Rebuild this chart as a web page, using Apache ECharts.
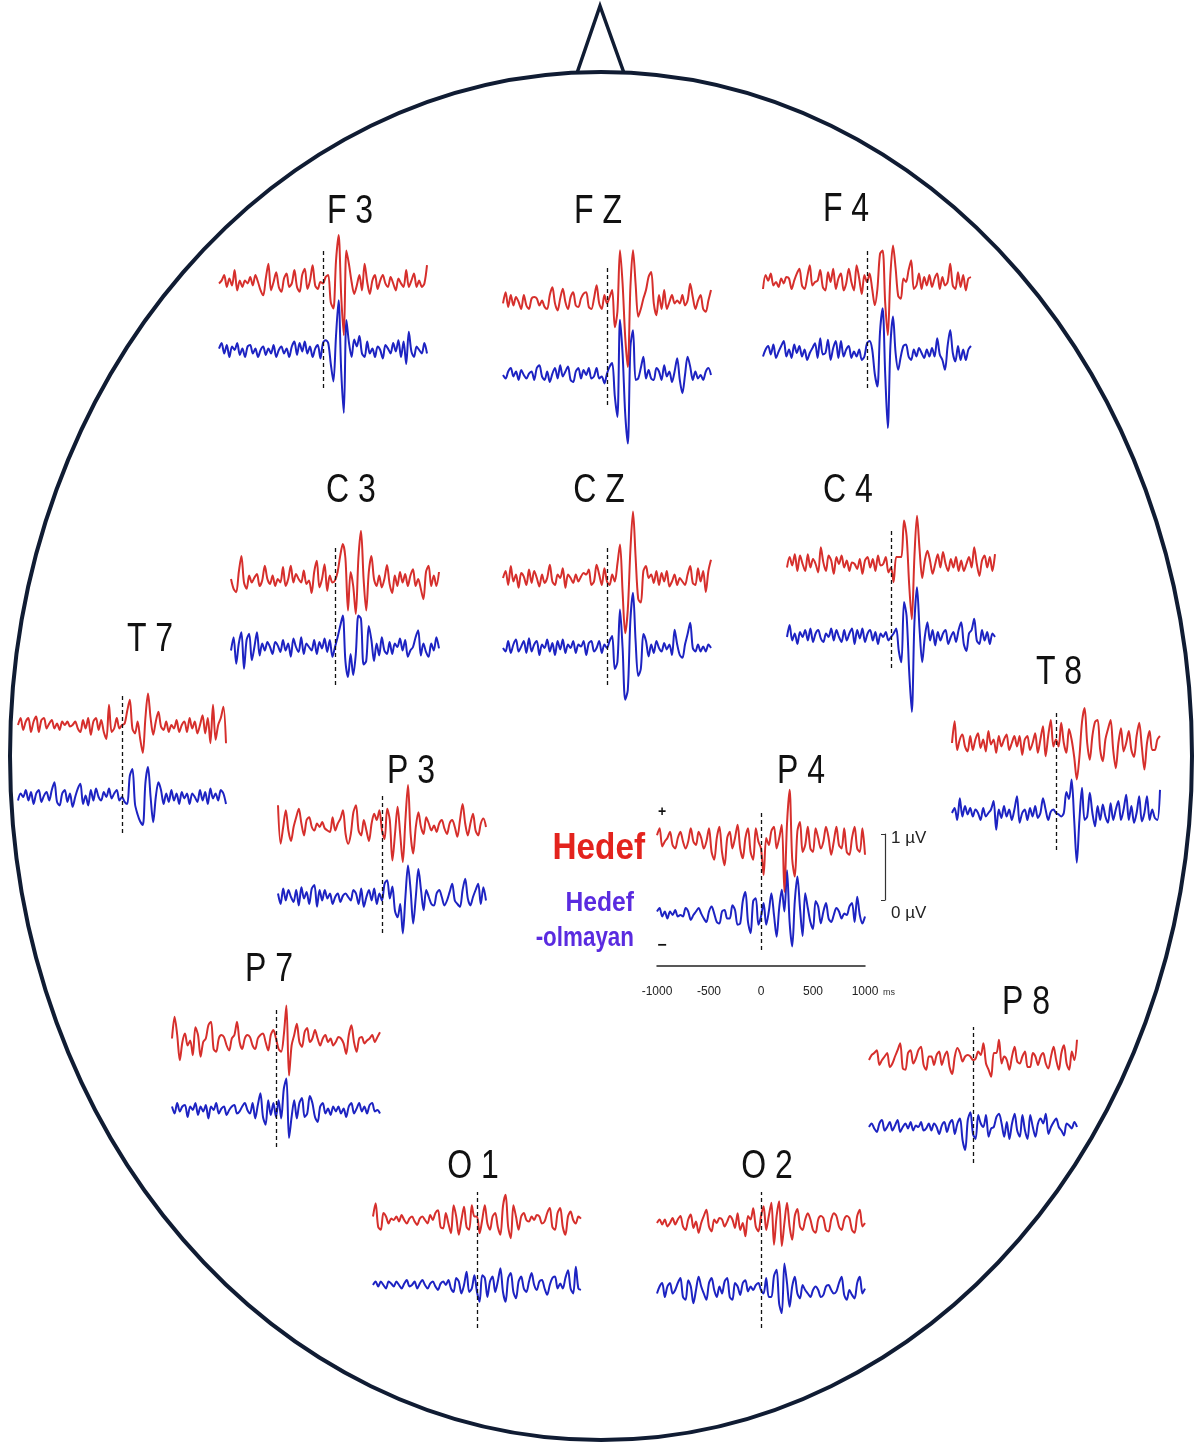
<!DOCTYPE html>
<html>
<head>
<meta charset="utf-8">
<script src="https://cdn.jsdelivr.net/npm/echarts@6/dist/echarts.min.js"></script>
<style>
  html, body { margin: 0; padding: 0; background: #ffffff; }
  #chart { width: 1199px; height: 1445px; }
</style>
</head>
<body>
<div id="chart"></div>
<script>
// Grand-average ERP traces (µV), 81 samples each from -1000 ms to +1000 ms.
// "target" = Hedef (red), "nontarget" = Hedef-olmayan (blue).
const timeTicks = [-1000, -500, 0, 500, 1000];
const scaleTicks = [0, 1];

const F3_target = [
  -0.02,0.02,0.1,-0.07,0.05,-0.05,0.17,-0.12,0.02,-0.07,
  0.02,-0.02,0.07,-0.05,0.1,0,-0.12,-0.19,0.05,0.26,
  -0.12,0,0.14,-0.07,-0.14,0.05,0.12,-0.07,-0.02,0.17,
  -0.07,-0.14,0.1,0.19,-0.1,0.02,0.24,-0.05,-0.1,0,
  -0.02,0.07,0.1,-0.29,-0.38,0.3,0.67,-0.2,-0.76,0.45,
  0.25,0,-0.17,-0.05,0.1,-0.12,0.26,0,-0.17,0.02,
  0.1,-0.1,0.02,0.1,-0.02,-0.07,0.07,-0.02,-0.12,0.05,
  -0.02,-0.07,0.17,-0.07,0.02,0.12,-0.07,0.02,-0.07,-0.02,
  0.24];
const F3_nontarget = [
  0.02,0.1,-0.05,0.07,-0.1,0.05,0,0.1,-0.07,0.02,
  -0.1,0.05,0.07,-0.05,0.02,-0.1,0,0.05,-0.07,0.02,
  -0.05,0.07,-0.1,0,0.05,-0.05,0.02,-0.1,0.05,0.12,
  -0.07,0.1,-0.02,0.12,-0.05,0.05,-0.1,0.02,0.07,-0.12,
  0.1,0.14,0.1,-0.2,-0.45,0.2,0.71,-0.3,-0.9,0.43,
  0.1,-0.1,0.15,0.05,0.2,-0.05,-0.1,0.12,-0.05,0.02,
  -0.1,0.05,0,-0.12,0.07,0.02,-0.05,0.1,-0.02,0.14,
  -0.1,0.12,-0.2,0.26,-0.02,-0.1,0.05,0,-0.05,0.1,
  -0.05];

const FZ_target = [
  -0.02,0.14,-0.07,0.1,-0.05,0.07,0,-0.1,0.1,-0.05,
  -0.1,0.05,0.07,0.05,-0.05,0.02,-0.07,-0.1,0.1,0.21,
  -0.02,-0.12,0.05,0.19,0,-0.1,0.07,0.14,-0.05,-0.07,
  0.05,0.12,0.14,-0.07,-0.1,0.05,0.24,-0.02,-0.1,0.1,
  -0.02,0.07,0.17,-0.36,-0.14,0.74,0.26,-0.5,-0.93,0.21,
  0.74,0.26,-0.21,-0.1,0.05,0.17,0.36,0.43,-0.02,-0.19,
  0.1,-0.1,0.17,-0.1,0,0.1,-0.02,0.02,-0.02,0.1,
  -0.05,0.02,0.26,0.07,-0.1,0.02,0.1,-0.1,-0.14,0.02,
  0.17];
const FZ_nontarget = [
  0,-0.05,0.05,0.1,-0.02,0.05,-0.07,0.07,0,-0.05,
  0.02,0.05,-0.07,0.1,0.14,-0.02,-0.07,0.05,-0.1,0.02,
  0.1,-0.05,0.14,-0.02,0.05,0.12,-0.07,-0.1,0.05,0.1,
  -0.05,0.07,0,0.1,-0.05,-0.02,0.1,-0.05,-0.02,-0.12,
  0.02,0.12,0.17,-0.3,-0.6,0.79,0.3,-0.55,-0.98,0.4,
  0.64,-0.07,-0.05,0.1,0.26,-0.05,0.07,-0.05,-0.07,0.1,
  0.05,-0.07,0.14,-0.02,0.05,-0.1,0.05,0.24,-0.07,-0.26,
  0,0.26,0.12,-0.07,0.05,-0.05,0,-0.07,0.05,0.1,
  0];

const F4_target = [
  -0.1,0.1,0.02,0.12,-0.05,0,-0.07,0.05,-0.02,0.07,
  0.05,-0.1,0.02,0.12,0.19,-0.05,-0.1,0.07,0.24,-0.05,
  0,0.02,0.17,-0.07,-0.12,0.14,0,0.19,-0.1,0.05,
  0.12,-0.12,-0.02,0.19,0,-0.12,0.24,0.05,-0.17,0.1,
  0,0.12,-0.1,-0.33,-0.1,0.4,0.45,-0.3,-0.76,0.1,
  0.52,0.2,-0.2,-0.24,0.05,0,0.17,0.31,-0.1,-0.05,
  0.12,-0.1,0.07,-0.05,0.1,-0.07,0.05,0.12,-0.1,0.07,
  -0.05,0,0.26,-0.05,-0.1,0.14,-0.07,0.1,-0.12,0.05,
  0.07];
const F4_nontarget = [
  -0.05,0.05,0.1,-0.02,0.12,-0.07,0.02,0.1,0.17,-0.05,
  0.05,-0.07,0.12,0,0.1,-0.05,0.05,-0.1,0,0.07,
  0.14,-0.07,0.21,-0.02,0,0.19,-0.1,0.07,0.17,-0.07,
  0.17,-0.05,0.05,0.1,-0.07,0.02,-0.05,0.05,-0.1,-0.05,
  0.14,0.17,0.05,-0.3,-0.48,0.3,0.64,-0.3,-1.07,0.1,
  0.52,0,-0.24,-0.05,0.1,0.12,-0.05,-0.1,0.05,-0.05,
  0.07,0,-0.07,0.05,-0.05,0.07,-0.05,0.21,-0.02,-0.1,
  -0.24,0.1,0.33,0,-0.12,0.1,-0.1,0.05,-0.1,0.05,
  0.1];

const C3_target = [
  0,-0.14,-0.19,0.1,0.33,-0.05,-0.14,0.05,-0.05,0.02,
  0.07,-0.1,-0.02,0.19,0,-0.07,0.05,-0.1,0,-0.05,
  0.17,-0.1,0,0.19,-0.05,0.07,0,-0.05,0.12,-0.07,
  -0.02,-0.2,0.1,0.26,-0.12,0,0.21,-0.17,0.05,-0.05,
  -0.02,0.1,0.33,0.5,0.3,-0.45,0.1,-0.1,-0.5,0.3,
  0.69,0,-0.45,0.1,0.33,0,-0.1,0.05,-0.12,0,
  0.2,-0.07,-0.2,0.05,-0.1,0.1,-0.05,0.07,-0.1,0.05,
  0.14,-0.1,0,-0.14,-0.29,0.1,0.19,-0.1,0.05,-0.1,
  0.1];
const C3_nontarget = [
  -0.05,0.14,-0.24,0.05,0.21,-0.31,0.1,0.19,-0.19,0,
  0.21,-0.12,0.05,-0.05,0.07,0,-0.1,0.07,0.02,-0.07,
  0.1,-0.05,0.05,-0.14,0.12,0,-0.07,0.14,-0.1,0.05,
  0,-0.05,0.1,-0.1,0.07,-0.02,0.12,-0.07,0.1,-0.14,
  0,0.14,0.3,0.45,-0.2,-0.43,-0.1,-0.4,-0.1,0.45,
  0.4,-0.25,-0.2,0.3,0.1,-0.2,0.05,-0.12,0.14,-0.05,
  -0.1,0.07,-0.1,0.05,0,0.12,-0.05,0.1,-0.14,-0.05,
  0,0.14,0.24,-0.12,0.05,-0.07,-0.14,0.05,-0.05,0.14,
  -0.02];

const CZ_target = [
  0,0.1,-0.1,0.17,-0.05,0.05,-0.14,0.07,0.02,-0.1,
  0.12,-0.07,0.1,0,-0.12,0.05,-0.07,0,0.19,-0.05,
  -0.1,0.05,0,0.14,-0.14,0.05,0,-0.07,0.05,-0.05,
  0.02,0.07,0.05,0.12,-0.1,-0.05,0.19,0.05,-0.1,0.14,
  -0.05,-0.1,0.05,-0.05,0.2,0.48,-0.2,-0.79,-0.45,0.4,
  0.95,0.3,-0.3,-0.35,0.1,0.17,0,0.05,-0.07,0.1,
  -0.1,0.07,-0.05,0.1,-0.12,-0.05,0.05,-0.1,0,-0.05,
  -0.1,0.05,0.17,-0.07,-0.1,0.14,-0.05,0.1,-0.2,0.1,
  0.26];
const CZ_nontarget = [
  0,-0.05,0.1,-0.07,0.05,0.12,-0.05,0.02,0.1,-0.07,
  0.14,-0.05,0.05,0.1,-0.1,0.05,0,0.12,-0.05,0.07,
  -0.1,0.1,-0.02,0.12,-0.07,0.05,0,0.1,-0.07,0.05,
  0.02,0.1,-0.1,0.07,0.1,-0.05,0,0.1,-0.07,0.05,
  0,0.1,0.17,-0.3,-0.2,0.55,0,-0.74,-0.6,0.4,
  0.79,0.1,-0.4,-0.3,0.2,0.1,-0.12,0.05,-0.07,0.1,
  0,-0.05,0.07,-0.02,0.05,-0.1,0.26,0.05,-0.1,-0.14,
  0.05,0.2,0.36,0,-0.05,0.05,-0.05,0.02,-0.05,0.05,
  0];

const C4_target = [
  -0.05,0.1,-0.02,0.14,-0.1,0.12,0,-0.1,0.14,-0.05,
  0.07,0,-0.12,0.24,0.02,-0.1,0.12,0.05,-0.14,0.1,
  0,0.12,-0.05,0.05,-0.1,0.02,0,-0.07,0.07,-0.14,
  0.05,0.1,-0.05,0.07,-0.1,0.12,-0.02,0,0.1,-0.12,
  -0.05,-0.26,0.1,0.1,0.1,0.62,0.4,-0.3,-0.79,0.1,
  0.69,0.2,-0.2,0.05,0.19,0.05,-0.14,0,0.14,-0.05,
  0.17,0,-0.1,0.07,-0.05,0.1,-0.1,0.05,-0.1,0,
  0.1,-0.05,0.24,0,-0.17,0.05,0.12,-0.05,0.1,-0.1,
  0.14];
const C4_nontarget = [
  0,0.17,-0.05,0.05,-0.1,0.07,0,0.1,-0.05,0.12,
  -0.07,0.05,0.1,-0.02,-0.07,0.05,0,0.12,-0.05,0.1,
  0,-0.07,0.1,-0.05,0.05,0.12,-0.1,0.1,-0.02,0.12,
  -0.07,0.05,0.1,-0.05,0.07,-0.1,0.05,0,0.07,-0.05,
  0,0.05,0.12,-0.2,-0.36,0.5,0.3,-0.5,-1.07,0.2,
  0.71,0.1,-0.36,0,0.21,-0.05,0.1,-0.12,0.07,-0.05,
  0.05,0.1,-0.1,0,0.07,-0.07,0.1,0.21,-0.1,-0.2,
  0.05,0.1,0.26,-0.05,-0.1,0.1,-0.05,0.07,-0.1,0.05,
  0];

const T7_target = [
  0,0.1,-0.07,0.05,0.1,-0.1,0.05,0.12,-0.1,0.07,
  0.1,-0.05,0.02,0.07,-0.05,0.02,-0.07,0.05,0,0.05,
  -0.02,0,0.05,-0.05,-0.1,0.07,-0.05,0.1,-0.14,0.05,
  0.1,-0.07,0.07,-0.1,-0.2,0.29,-0.1,-0.05,0.1,-0.05,
  0,0.02,0.2,0.36,-0.05,-0.12,0.05,-0.2,-0.4,0.1,
  0.45,0.1,-0.14,0.05,0.19,-0.02,-0.07,0.05,-0.1,0,
  -0.05,0.07,-0.1,0,0.05,-0.1,0.1,-0.05,0.05,-0.12,
  0,0.14,-0.12,0.1,-0.26,0.29,-0.21,0,0.1,0.26,
  -0.26];
const T7_nontarget = [
  -0.05,0.05,0,0.1,-0.05,0.07,-0.1,0.05,0.1,-0.07,
  0.02,0.07,-0.05,0.1,0.21,-0.07,-0.12,0.05,0.1,-0.07,
  0.05,-0.14,0,0.12,0.19,-0.1,0.02,-0.12,0.1,-0.05,
  0.12,0,-0.05,0.07,0,0.12,-0.02,0.05,0.1,-0.05,
  0,-0.07,-0.1,0.3,0.4,-0.1,-0.25,-0.35,-0.4,0.2,
  0.43,0,-0.36,0,0.21,0.1,-0.1,0.05,-0.07,0.1,
  -0.05,0.05,-0.1,0.07,-0.02,0.05,-0.1,0.05,0,-0.07,
  0.1,-0.05,0.07,-0.1,0.12,-0.02,0.05,-0.05,0.1,0.05,
  -0.1];

const T8_target = [
  0,0.31,-0.1,0.05,0.12,-0.05,-0.12,0.1,-0.1,0.05,
  0.14,-0.07,0.05,-0.12,0.17,-0.02,0.05,-0.14,0.1,-0.05,
  0.05,0.12,-0.1,0,0.1,-0.05,0.1,-0.17,0.05,0.1,
  -0.1,0,0.14,-0.14,0.05,0.24,-0.19,0.1,0.33,-0.05,
  0.05,-0.05,0.29,0,-0.14,0.2,0.05,-0.2,-0.52,-0.2,
  0.3,0.5,0,-0.24,0.1,0.3,0.33,-0.1,-0.26,0.05,
  0.2,0.33,-0.1,-0.36,0,0.21,-0.12,0,0.17,-0.1,
  -0.2,0.1,0.29,-0.05,-0.38,0,0.17,-0.1,-0.1,0.05,
  0.1];
const T8_nontarget = [
  0,0.07,-0.1,0.21,-0.05,0.1,-0.02,0.07,-0.05,0.05,
  0,-0.1,0.07,-0.05,0,0.05,0.17,-0.24,0.05,-0.07,
  0.1,-0.05,0.05,-0.1,0.05,0.24,-0.14,0,0.05,-0.1,
  0.07,-0.05,0.1,-0.07,0,0.21,0.05,-0.1,0.02,0.05,
  0,-0.02,-0.05,0,0.3,0.2,0.48,-0.1,-0.71,-0.1,
  0.36,-0.1,-0.05,0.29,0,-0.19,0.1,-0.1,0.12,-0.05,
  -0.14,0.14,-0.1,0.05,0.17,-0.1,0.05,0.26,-0.1,0.1,
  -0.14,0,0.24,-0.12,0,0.24,-0.1,0.05,-0.07,-0.1,
  0.33];

const P3_target = [
  0.31,-0.24,0,0.24,-0.05,-0.2,0,0.14,0.26,0.05,
  -0.12,0.1,0.14,0,-0.05,0.05,0,0.07,-0.02,-0.05,
  -0.07,0.14,-0.05,0.05,0.12,0.24,-0.1,-0.24,-0.1,0.21,
  0.31,-0.05,-0.12,0.1,-0.05,-0.2,0.05,0.19,0.1,0.24,
  -0.05,-0.17,0.26,0.1,-0.48,-0.1,0.29,-0.1,-0.5,0.1,
  0.6,-0.1,-0.38,0,0.21,0,-0.1,0.14,0.05,-0.05,
  0.02,-0.07,0.05,0.1,-0.02,-0.1,0.05,0.1,0,-0.14,
  0.1,0.33,0.05,-0.12,0.05,0.19,-0.05,-0.12,0.05,0.12,
  0];
const P3_nontarget = [
  0.05,-0.1,0.12,-0.05,0.1,0,-0.07,0.1,-0.12,0.14,
  -0.02,0.07,-0.1,0.12,0.17,-0.14,0.1,-0.05,0.1,-0.02,
  0.05,-0.1,0,0.05,-0.07,0.02,0.05,0,-0.05,0.1,
  0.05,-0.1,0.12,-0.14,0,0.1,-0.05,0.12,-0.1,0.05,
  -0.05,0.19,0.24,-0.02,0.15,-0.2,-0.29,-0.1,-0.52,0,
  0.45,0.1,-0.38,0,0.4,0.1,-0.19,0.1,0,-0.1,
  -0.12,0.05,0.1,0,-0.12,-0.05,0.07,0.19,-0.05,-0.1,
  -0.14,0.1,0.26,-0.02,-0.12,0,0.1,0.19,-0.1,0.14,
  -0.05];

const P4_target = [
  0.14,0.24,-0.02,0.05,0.1,0.19,0,-0.05,0.1,0.19,
  0.05,-0.05,0.05,0.24,0.05,0,0.19,0.1,-0.05,0.05,
  0.24,-0.1,-0.21,0.1,0.26,-0.1,-0.29,0.1,0.19,-0.05,
  0.1,0.29,-0.05,-0.19,0.1,0.24,-0.1,-0.21,0.24,0.05,
  -0.05,-0.43,0.1,0,0.2,0.26,-0.05,0.1,0.29,-0.67,
  0.3,0.79,-0.2,-0.45,0.2,0.33,-0.1,0,0.26,-0.05,
  -0.1,0.24,0.1,-0.05,0.05,0.26,0.1,-0.14,0.05,0.26,
  0,-0.05,0.24,-0.1,-0.14,0.1,0.26,-0.05,-0.1,0.24,
  -0.14];
const P4_nontarget = [
  0.05,0.1,-0.02,0.05,-0.05,0.05,0,0.07,-0.02,0,
  -0.02,0.1,0.05,-0.07,0,0.05,0.1,0.02,-0.05,-0.1,
  0.05,0.12,0.02,-0.1,-0.12,0.05,0.07,-0.05,-0.05,0.14,
  0.07,-0.14,-0.12,0.2,0.33,-0.1,-0.26,0.2,0.24,-0.14,
  -0.02,0.17,-0.14,0.05,0.31,0,-0.31,0.1,0.36,0.05,
  0.64,-0.1,-0.45,0.2,0.55,0.1,-0.3,0.31,0.1,-0.1,
  -0.2,0.2,0.12,-0.12,0.05,0.17,-0.05,-0.1,0,0.1,
  0.05,-0.05,0.02,0,0.12,0.17,-0.1,0.26,0,-0.12,
  -0.02];

const P7_target = [
  0.05,0.36,0.1,-0.26,0,0.12,-0.05,0.02,-0.19,0.21,
  0.1,-0.21,0,0.05,0.24,0.29,-0.1,-0.14,0.05,0.1,
  0.07,-0.05,-0.12,0.05,0.1,0.29,0,-0.1,0.05,0.1,
  0.07,-0.05,-0.1,0.05,0.1,0.12,0,-0.12,0.1,0.17,
  0.05,-0.1,-0.14,0.1,0.52,-0.48,-0.05,0.1,0.26,0,
  -0.07,0.14,0.2,0,0.05,0.17,0.05,-0.05,0.05,0.1,
  0,0.05,-0.05,0,0.07,0.05,-0.02,-0.17,0.1,0.24,
  0,-0.14,0.05,0.07,-0.02,0.02,0.05,0.1,0,0.07,
  0.14];
const P7_nontarget = [
  0.05,-0.05,0.1,-0.02,0.05,0.07,-0.1,0.05,0,0.1,
  -0.07,0.05,-0.02,0.07,-0.12,0.05,0,0.1,-0.05,0.02,
  0.05,-0.07,0,0.05,0.07,-0.05,-0.02,0.05,0.1,0,
  -0.05,0.1,-0.12,0.07,0.24,-0.1,-0.21,0.14,-0.07,0.1,
  -0.1,0.14,-0.12,0.3,0.45,-0.4,-0.1,0.14,-0.12,0.1,
  0.17,-0.1,-0.05,0.2,0.1,-0.1,-0.17,0.05,0.1,-0.05,
  0.02,-0.07,0.05,-0.02,0.05,-0.05,0.02,-0.1,0.05,0.1,
  -0.05,0.02,0.1,-0.02,0.05,-0.05,0.07,0.1,-0.02,0,
  -0.05];

const P8_target = [
  0,0.07,0.1,0.14,-0.07,0,0.05,0.1,-0.1,-0.05,
  0.05,0.14,0.24,-0.12,-0.14,0.1,0.14,-0.05,0.02,0.14,
  0.19,-0.07,-0.14,0.05,0.05,-0.07,0.07,0.12,-0.07,0.05,
  0.12,-0.1,-0.2,0.05,0.17,0.1,-0.02,0.05,0.07,0.05,
  0,0.02,0.12,0.07,0.24,-0.05,-0.14,-0.24,0.1,0.1,
  0.29,-0.05,0.05,0,-0.14,0.05,0.19,-0.02,-0.05,0.05,
  0.12,-0.1,-0.1,0.1,0.05,-0.07,0.05,0.1,-0.05,-0.12,
  0.05,0.19,0,-0.14,0.1,0.21,-0.05,-0.14,0.12,0,
  0.29];
const P8_nontarget = [
  0,0.05,-0.02,-0.07,0.05,0.1,-0.05,0,0.07,-0.05,
  0.02,0.1,-0.07,0,0.05,-0.02,0.07,-0.05,0.02,0,
  0.07,-0.05,-0.02,0.05,-0.05,0.05,0,-0.1,0.02,0.07,
  -0.07,0.05,0.1,-0.1,0.05,0.12,-0.19,-0.33,0.1,0.21,
  -0.1,-0.17,0.17,0.05,0,0.17,-0.14,-0.02,0,0.14,
  0.19,0.05,-0.14,0.07,-0.17,0.05,0.19,-0.05,-0.14,0.17,
  -0.05,-0.17,0.17,0,-0.14,0.05,0.12,0.05,0.19,-0.1,
  0,0.07,0.12,0,-0.05,-0.12,0.05,0.02,-0.02,0.07,
  0];

const O1_target = [
  0.05,0.24,-0.1,-0.14,0.1,0.05,-0.05,0.02,0,0.05,
  -0.02,0.07,0,-0.05,0.02,0.05,-0.02,-0.07,0.02,0.05,
  0,-0.05,0.07,0,0.1,0.14,-0.1,-0.12,0.1,-0.05,
  -0.19,0.21,0.05,-0.21,0,0.19,-0.1,-0.14,0.21,0.05,
  0.05,-0.19,0,0.21,-0.05,-0.14,0.05,0.1,-0.1,-0.21,
  0.2,0.36,-0.1,-0.26,0.21,0.05,-0.14,0.05,0.1,0,
  -0.02,0.05,0,0.07,0.05,-0.05,-0.02,0.1,0.17,-0.1,
  -0.14,0.1,0.17,-0.1,-0.21,0.05,0.12,0,-0.05,0.05,
  0.02];
const O1_nontarget = [
  0,0.05,-0.02,0.05,0,-0.05,0.05,0.02,-0.02,0.05,
  0,-0.05,0.02,0.07,-0.02,0,0.05,-0.05,0.02,0.07,
  0,-0.05,0.02,0.05,-0.02,-0.07,0.02,0.05,0,0.07,
  -0.05,-0.1,0.1,0.05,-0.12,0,0.19,-0.1,-0.05,0.14,
  -0.1,-0.24,0.14,0.1,-0.17,0.05,0.12,-0.1,0.05,0.24,
  -0.1,-0.24,0.1,0.17,-0.1,-0.19,0.05,0.12,-0.05,-0.1,
  0.05,0.17,0,-0.07,0.05,0.07,-0.05,-0.14,0,0.1,
  0.12,-0.05,0.02,-0.05,0.1,0.21,-0.05,-0.12,0.26,-0.05,
  -0.07];

const O2_target = [
  0,0.05,-0.02,0.05,-0.05,0,0.07,-0.02,0.05,0.1,
  -0.05,-0.1,0.05,0.12,-0.07,0.02,-0.14,0,0.1,0.19,
  -0.05,-0.12,0.05,0,0.07,0.05,-0.05,0.02,0.1,0.05,
  -0.07,0.14,-0.1,0,-0.19,0.1,0.05,0.21,-0.05,-0.12,
  0.1,0.24,-0.1,0.1,0.29,-0.31,0.1,0.31,-0.33,0,
  0.29,-0.05,-0.24,0.1,0.2,-0.05,-0.1,0.05,0.14,0.05,
  -0.1,-0.14,0.05,0.1,0.07,-0.1,-0.12,0.05,0.14,0.1,
  -0.05,-0.1,0.05,0.1,0.07,-0.1,-0.14,0.1,0.19,-0.05,
  0];
const O2_nontarget = [
  -0.05,0.05,0.1,-0.1,0.05,0.1,-0.05,0,0.1,0.17,
  -0.1,-0.14,0.14,0.05,-0.19,0,0.19,0.05,-0.05,-0.14,
  0.1,0.17,0,-0.1,0.05,-0.05,0.12,0.17,-0.1,-0.14,
  0.1,0.05,-0.07,0.1,0.14,-0.02,0.05,0,0.07,0.1,
  0,-0.05,0.17,-0.1,-0.1,0.2,0.29,-0.2,-0.33,0.38,
  0.1,-0.24,0.05,0.19,-0.05,-0.12,0.07,0,-0.05,-0.1,
  0,0.05,0,-0.1,-0.07,0.05,0.07,0,-0.05,-0.02,
  0.1,0.19,-0.07,-0.14,0,-0.07,-0.12,0.1,0.19,-0.05,
  0.02];

// Page placement of each electrode panel (pixels): zero-time x, panel top/bottom,
// baselines of the two traces, and the label anchor.
const sites = [
  { name: 'F 3', target: F3_target, nontarget: F3_nontarget, zeroX: 323, top: 250, bottom: 388, targetY: 282, nontargetY: 350, labelX: 350, labelY: 212 },
  { name: 'F Z', target: FZ_target, nontarget: FZ_nontarget, zeroX: 607, top: 267, bottom: 405, targetY: 302, nontargetY: 375, labelX: 598, labelY: 212 },
  { name: 'F 4', target: F4_target, nontarget: F4_nontarget, zeroX: 867, top: 250, bottom: 388, targetY: 282, nontargetY: 353, labelX: 846, labelY: 210 },
  { name: 'C 3', target: C3_target, nontarget: C3_nontarget, zeroX: 335, top: 547, bottom: 685, targetY: 579, nontargetY: 647, labelX: 351, labelY: 491 },
  { name: 'C Z', target: CZ_target, nontarget: CZ_nontarget, zeroX: 607, top: 547, bottom: 685, targetY: 578, nontargetY: 648, labelX: 599, labelY: 491 },
  { name: 'C 4', target: C4_target, nontarget: C4_nontarget, zeroX: 891, top: 530, bottom: 668, targetY: 564, nontargetY: 637, labelX: 848, labelY: 491 },
  { name: 'T 7', target: T7_target, nontarget: T7_nontarget, zeroX: 122, top: 695, bottom: 833, targetY: 725, nontargetY: 797, labelX: 150, labelY: 640 },
  { name: 'T 8', target: T8_target, nontarget: T8_nontarget, zeroX: 1056, top: 713, bottom: 850, targetY: 743, nontargetY: 813, labelX: 1059, labelY: 673 },
  { name: 'P 3', target: P3_target, nontarget: P3_nontarget, zeroX: 382, top: 795, bottom: 933, targetY: 827, nontargetY: 897, labelX: 411, labelY: 772 },
  { name: 'P 4', target: P4_target, nontarget: P4_nontarget, zeroX: 761, top: 812, bottom: 950, targetY: 845, nontargetY: 915, labelX: 801, labelY: 772 },
  { name: 'P 7', target: P7_target, nontarget: P7_nontarget, zeroX: 276, top: 1010, bottom: 1147, targetY: 1042, nontargetY: 1110, labelX: 269, labelY: 970 },
  { name: 'P 8', target: P8_target, nontarget: P8_nontarget, zeroX: 973, top: 1027, bottom: 1163, targetY: 1060, nontargetY: 1127, labelX: 1026, labelY: 1003 },
  { name: 'O 1', target: O1_target, nontarget: O1_nontarget, zeroX: 477, top: 1192, bottom: 1328, targetY: 1220, nontargetY: 1285, labelX: 473, labelY: 1167 },
  { name: 'O 2', target: O2_target, nontarget: O2_nontarget, zeroX: 761, top: 1192, bottom: 1328, targetY: 1223, nontargetY: 1290, labelX: 767, labelY: 1167 }
];

const TARGET_COLOR = '#d62f2c';
const NONTARGET_COLOR = '#1d23c2';
const OUTLINE_COLOR = '#101c33';
const PX_PER_UV = 70;     // vertical gain
const HALF_WIDTH = 104;   // half of the 2000 ms window, px
const T_MIN = -1000, T_MAX = 1000;

function toPoints(values) {
  const n = values.length;
  return values.map((v, i) => [T_MIN + (T_MAX - T_MIN) * i / (n - 1), v]);
}

const grid = [], xAxis = [], yAxis = [], series = [];

sites.forEach((s, k) => {
  grid.push({
    left: s.zeroX - HALF_WIDTH, width: 2 * HALF_WIDTH,
    top: s.top, height: s.bottom - s.top,
    outerBoundsMode: 'none'
  });
  xAxis.push({ gridIndex: k, type: 'value', min: T_MIN, max: T_MAX, show: false });
  const yt = yAxis.length;
  yAxis.push({ gridIndex: k, type: 'value', show: false,
    min: -(s.bottom - s.targetY) / PX_PER_UV, max: (s.targetY - s.top) / PX_PER_UV });
  yAxis.push({ gridIndex: k, type: 'value', show: false,
    min: -(s.bottom - s.nontargetY) / PX_PER_UV, max: (s.nontargetY - s.top) / PX_PER_UV });
  series.push({
    name: s.name + ' Hedef-olmayan', type: 'line', xAxisIndex: k, yAxisIndex: yt + 1,
    data: toPoints(s.nontarget), showSymbol: false, clip: false, silent: true, smooth: 0.3,
    lineStyle: { color: NONTARGET_COLOR, width: 2, join: 'round' }, z: 3
  });
  series.push({
    name: s.name + ' Hedef', type: 'line', xAxisIndex: k, yAxisIndex: yt,
    data: toPoints(s.target), showSymbol: false, clip: false, silent: true, smooth: 0.3,
    lineStyle: { color: TARGET_COLOR, width: 2, join: 'round' }, z: 4,
    markLine: {
      silent: true, symbol: ['none', 'none'], label: { show: false },
      lineStyle: { color: '#111111', width: 1.3, type: [4, 3] },
      data: [{ xAxis: 0 }]
    }
  });
});

// time axis under P4
const P4 = sites[9];
const timeGrid = grid.length;
grid.push({ left: P4.zeroX - HALF_WIDTH, width: 2 * HALF_WIDTH, top: 946, height: 20, outerBoundsMode: 'none' });
xAxis.push({
  gridIndex: timeGrid, type: 'value', min: T_MIN, max: T_MAX, interval: 500,
  axisLine: { show: true, onZero: false, lineStyle: { color: '#222222', width: 1.5 } },
  axisTick: { show: false }, splitLine: { show: false },
  axisLabel: { show: true, margin: 20, fontSize: 12, color: '#222222', fontFamily: 'Liberation Sans',
    formatter: v => timeTicks.indexOf(v) >= 0 ? String(v) : '' }
});
yAxis.push({ gridIndex: timeGrid, type: 'value', show: false });

// amplitude scale bar (0–1 µV)
const scaleGrid = grid.length;
grid.push({ left: 884, width: 1, top: 834, height: 66, outerBoundsMode: 'none' });
xAxis.push({ gridIndex: scaleGrid, type: 'value', show: false });
yAxis.push({
  gridIndex: scaleGrid, type: 'value', position: 'right', min: 0, max: 1, interval: 1,
  axisLine: { show: true, onZero: false, lineStyle: { color: '#333333', width: 1.2 } },
  axisTick: { show: true, inside: true, length: 4, lineStyle: { color: '#333333' } },
  splitLine: { show: false },
  axisLabel: {
    show: true, margin: 6, color: '#222222', fontSize: 17, fontFamily: 'Liberation Sans',
    formatter: v => scaleTicks.indexOf(v) === 0 ? '{lo|' + v + ' µV}' : '{hi|' + v + ' µV}',
    rich: {
      lo: { fontSize: 17, color: '#222222', fontFamily: 'Liberation Sans', padding: [26, 0, 0, 0] },
      hi: { fontSize: 17, color: '#222222', fontFamily: 'Liberation Sans', padding: [8, 0, 0, 0] }
    }
  }
});

// head outline (ellipse as four cubic segments) and nose
const HEAD = { cx: 601, cy: 756, rx: 591, ry: 684 };
const K = 0.5523;
function quarter(x1, y1, x2, y2, c1x, c1y, c2x, c2y) {
  return { type: 'bezierCurve', silent: true, z: 1,
    shape: { x1, y1, x2, y2, cpx1: c1x, cpy1: c1y, cpx2: c2x, cpy2: c2y },
    style: { stroke: OUTLINE_COLOR, lineWidth: 4, fill: null } };
}
const h = HEAD;
const graphics = [
  quarter(h.cx, h.cy - h.ry, h.cx + h.rx, h.cy, h.cx + K * h.rx, h.cy - h.ry, h.cx + h.rx, h.cy - K * h.ry),
  quarter(h.cx + h.rx, h.cy, h.cx, h.cy + h.ry, h.cx + h.rx, h.cy + K * h.ry, h.cx + K * h.rx, h.cy + h.ry),
  quarter(h.cx, h.cy + h.ry, h.cx - h.rx, h.cy, h.cx - K * h.rx, h.cy + h.ry, h.cx - h.rx, h.cy + K * h.ry),
  quarter(h.cx - h.rx, h.cy, h.cx, h.cy - h.ry, h.cx - h.rx, h.cy - K * h.ry, h.cx - K * h.rx, h.cy - h.ry),
  { type: 'polyline', silent: true, z: 1,
    shape: { points: [[577, 73], [600, 6], [624, 73]] },
    style: { stroke: OUTLINE_COLOR, lineWidth: 3.5, fill: null, lineJoin: 'miter' } }
];

// electrode labels
sites.forEach(s => {
  graphics.push({ type: 'text', x: s.labelX, y: s.labelY, scaleX: 0.8, silent: true, z: 5,
    style: { text: s.name, fill: '#111111', font: '40px "Liberation Sans"', align: 'center', verticalAlign: 'middle' } });
});

// legend text, polarity marks and time unit
graphics.push(
  { type: 'text', x: 645, y: 849, scaleX: 0.9, silent: true, z: 5,
    style: { text: 'Hedef', fill: '#e3231d', font: 'bold 37px "Liberation Sans"', align: 'right', verticalAlign: 'middle' } },
  { type: 'text', x: 634, y: 903, scaleX: 0.88, silent: true, z: 5,
    style: { text: 'Hedef', fill: '#5a2be0', font: 'bold 28px "Liberation Sans"', align: 'right', verticalAlign: 'middle' } },
  { type: 'text', x: 634, y: 938, scaleX: 0.8, silent: true, z: 5,
    style: { text: '-olmayan', fill: '#5a2be0', font: 'bold 28px "Liberation Sans"', align: 'right', verticalAlign: 'middle' } },
  { type: 'text', x: 662, y: 812, silent: true, z: 5,
    style: { text: '+', fill: '#111111', font: 'bold 14px "Liberation Sans"', align: 'center', verticalAlign: 'middle' } },
  { type: 'text', x: 662, y: 946, silent: true, z: 5,
    style: { text: '−', fill: '#111111', font: 'bold 16px "Liberation Sans"', align: 'center', verticalAlign: 'middle' } },
  { type: 'text', x: 889, y: 993, silent: true, z: 5,
    style: { text: 'ms', fill: '#333333', font: '9px "Liberation Sans"', align: 'center', verticalAlign: 'middle' } }
);

const chart = echarts.init(document.getElementById('chart'), null, { renderer: 'canvas' });
chart.setOption({
  animation: false,
  backgroundColor: '#ffffff',
  grid, xAxis, yAxis, series,
  graphic: { elements: graphics }
});
</script>
</body>
</html>
